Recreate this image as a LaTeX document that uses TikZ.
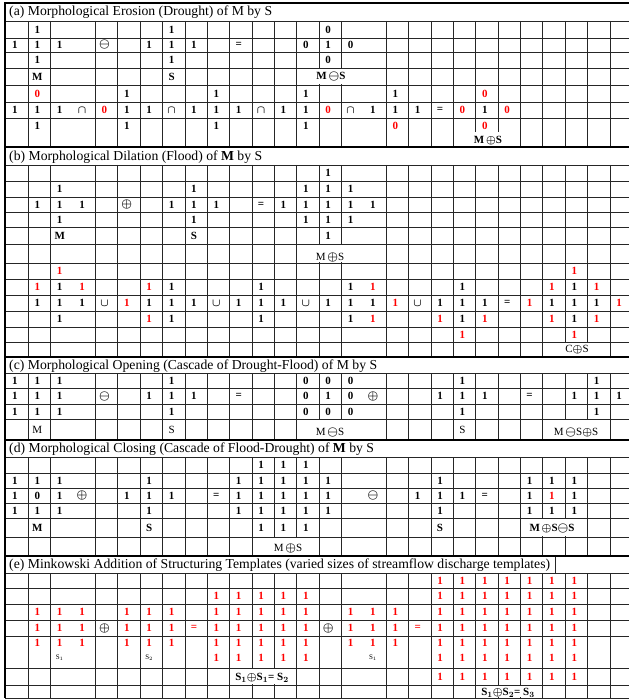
\documentclass[tikz,border=0pt]{standalone}
\usepackage{fontspec}
\setmainfont{Liberation Serif}
\usetikzlibrary{positioning}

\newcommand{\rd}[1]{\textcolor{red}{#1}}
\newcommand{\opm}{{\large$\ominus$}}
\newcommand{\opp}{{\large$\oplus$}}
% one row of cells: name, y, list of column/text
\newcommand{\cellrow}[3]{\foreach \col/\txt in {#3}
  \node[num] (#1-\col) at ({15+22.37*\col},#2) {\txt};}
\newcommand{\redrow}[3]{\foreach \col in {#3}
  \node[num, text=red] (#1-\col) at ({15+22.37*\col},#2) {1};}
\newcommand{\vgrid}[2]{\foreach \b in {1,2,4,5,...,15,17,18,...,27}
  \draw[grid] ({6+22.37*\b},#1) -- ({6+22.37*\b},#2);}
\newcommand{\hgrid}[1]{\foreach \y in {#1} \draw[grid] (5,\y) -- (629,\y);}

\begin{document}
\begin{tikzpicture}[x=1pt, y=-1pt,
    grid/.style={draw=black!85, line width=0.8pt},
    rule/.style={draw=black, line width=1.6pt},
    num/.style={font=\fontsize{11}{12}\selectfont\bfseries\boldmath, inner sep=0pt},
    title/.style={anchor=west, font=\fontsize{13.7}{15}\selectfont, inner sep=0pt},
    tag/.style={font=\fontsize{7}{8}\selectfont, inner sep=0pt},
    gap/.style={fill=white},
]
\useasboundingbox (0,0) rectangle (629,700);

% grid lines
\hgrid{21,38,52,68,85,102,118}
\vgrid{21}{147}
\hgrid{165,181,197,212,227,244,263,279,295,311,327,342}
\vgrid{165}{357}
\hgrid{373,388,404,419}
\vgrid{373}{440}
\hgrid{457,473,488,503,518,537}
\vgrid{457}{556}
\hgrid{573,588,604,620,636,668,685,698}
\vgrid{573}{698}
\draw[grid] (555,556) -- (555,573);

% merged cells
\fill[gap] (308,68.7) rectangle (352,84.3);
\fill[gap] (462,132) rectangle (512,146.2);
\fill[gap] (308,244.7) rectangle (352,262.3);
\fill[gap] (555,342.7) rectangle (598,356.3);
\fill[gap] (308,419.7) rectangle (352,439.3);
\fill[gap] (548,419.7) rectangle (605,439.3);
\fill[gap] (525,518.7) rectangle (575,536.3);
\fill[gap] (262,537.7) rectangle (308,555.3);
\fill[gap] (240,668.7) rectangle (285,684.3);
\fill[gap] (485,685.7) rectangle (532,697.3);

% section rules
\foreach \y in {3,147,357,440,556} \draw[rule] (5,\y) -- (629,\y);
\draw[rule] (5,2.2) -- (5,698);

% (a) erosion
\node[title] (ta) at (9,12) {(a) Morphological Erosion (Drought) of M by S};
\cellrow{a1}{29.5}{1/1,7/1,14/0}
\cellrow{a2}{45}{0/1,1/1,2/1,4/\opm,6/1,7/1,8/1,10/=,13/0,14/1,15/0}
\cellrow{a3}{60}{1/1,7/1,14/0}
\cellrow{a4}{76.5}{1/M,7/S}
\node[num] (a4-res) at (331,77) {M\,\opm S};
\cellrow{a5}{93.5}{1/\rd0,5/1,9/1,13/1,17/1,21/\rd0}
\cellrow{a6}{110}{0/1,1/1,2/1,3/$\cap$,4/\rd0,5/1,6/1,7/$\cap$,8/1,9/1,10/1,11/$\cap$,12/1,13/1,14/\rd0,15/$\cap$,16/1,17/1,18/1,19/=,20/\rd0,21/1,22/\rd0}
\cellrow{a7}{126}{1/1,5/1,9/1,13/1,17/\rd0,21/\rd0}
\node[num] (a7-res) at (488,141) {M\,$\oplus$S};

% (b) dilation
\node[title] (tb) at (9,157) {(b) Morphological Dilation (Flood) of \textbf{M} by S};
\cellrow{b1}{173}{14/1}
\cellrow{b2}{189}{2/1,8/1,13/1,14/1,15/1}
\cellrow{b3}{204.5}{1/1,2/1,3/1,5/\opp,7/1,8/1,9/1,11/=,12/1,13/1,14/1,15/1,16/1}
\cellrow{b4}{219.5}{2/1,8/1,13/1,14/1,15/1}
\cellrow{b5}{235.5}{2/M,8/S,14/1}
\node[num] (b6-res) at (330,257) {\mdseries M\,\opp S};
\cellrow{b7}{271}{2/\rd1,25/\rd1}
\cellrow{b8}{287}{1/\rd1,2/1,3/\rd1,6/\rd1,7/1,11/1,15/1,16/\rd1,20/1,24/\rd1,25/1,26/\rd1}
\cellrow{b9}{303}{1/1,2/1,3/1,4/$\cup$,5/\rd1,6/1,7/1,8/1,9/$\cup$,10/1,11/1,12/1,13/$\cup$,14/1,15/1,16/1,17/\rd1,18/$\cup$,19/1,20/1,21/1,22/=,23/\rd1,24/1,25/1,26/1,27/\rd1}
\cellrow{b10}{319}{2/1,6/\rd1,7/1,11/1,15/1,16/\rd1,19/\rd1,20/1,21/\rd1,24/\rd1,25/1,26/\rd1}
\cellrow{b11}{334.5}{20/\rd1,25/\rd1}
\node[num] (b12-res) at (577,350) {\mdseries C$\oplus$S};

% (c) opening
\node[title] (tc) at (9,366) {(c) Morphological Opening (Cascade of Drought-Flood) of M by S};
\cellrow{c1}{380.5}{0/1,1/1,2/1,7/1,13/0,14/0,15/0,20/1,26/1}
\cellrow{c2}{396}{0/1,1/1,2/1,4/\opm,6/1,7/1,8/1,10/=,13/0,14/1,15/0,16/\opp,19/1,20/1,21/1,23/=,25/1,26/1,27/1}
\cellrow{c3}{411.5}{0/1,1/1,2/1,7/1,13/0,14/0,15/0,20/1,26/1}
\cellrow{c4}{430}{1/\mdseries M,7/\mdseries S,20/\mdseries S}
\node[num] (c4-res1) at (330,432) {\mdseries M\,\opm S};
\node[num] (c4-res2) at (576,432) {\mdseries M\,\opm S$\oplus$S};

% (d) closing
\node[title] (td) at (9,449) {(d) Morphological Closing (Cascade of Flood-Drought) of \textbf{M} by S};
\cellrow{d1}{465}{11/1,12/1,13/1}
\cellrow{d2}{480.5}{0/1,1/1,2/1,6/1,10/1,11/1,12/1,13/1,14/1,19/1,23/1,24/1,25/1}
\cellrow{d3}{495.5}{0/1,1/0,2/1,3/\opp,5/1,6/1,7/1,9/=,10/1,11/1,12/1,13/1,14/1,16/\opm,18/1,19/1,20/1,21/=,23/1,24/\rd1,25/1}
\cellrow{d4}{510.5}{0/1,1/1,2/1,6/1,10/1,11/1,12/1,13/1,14/1,19/1,23/1,24/1,25/1}
\cellrow{d5}{527.5}{1/M,6/S,11/1,12/1,13/1,19/S}
\node[num] (d5-res) at (552,528) {M\,$\oplus$S\opm S};
\node[num] (d6-res) at (288,548) {\mdseries M\,\opp S};

% (e) Minkowski addition
\node[title] (te) at (9,565) {(e) Minkowski Addition of Structuring Templates (varied sizes of streamflow discharge templates)};
\redrow{e1}{580.5}{19,...,25}
\redrow{e2}{596}{9,...,13,19,20,...,25}
\redrow{e3}{612}{1,2,3,5,6,7,9,10,...,13,15,16,17,19,20,...,25}
\redrow{e4}{628}{1,2,3,5,6,7,9,10,...,13,15,16,17,19,20,...,25}
\cellrow{e4o}{628}{4/\opp,8/\rd{=},14/\opp,18/\rd{=}}
\redrow{e5}{643}{1,2,3,5,6,7,9,10,...,13,15,16,17,19,20,...,25}
\redrow{e6}{658}{9,...,13,19,20,...,25}
\foreach \col/\txt in {2/1,6/2,16/1}
  \node[tag] (s-\col) at ({15+22.37*\col},658) {S$_{\txt}$};
\redrow{e7}{677}{19,...,25}
\node[num] (e6-res) at (262,678) {S$_1\oplus$S$_1$= S$_2$};
\node[num] (e7-res) at (508,693) {S$_1\oplus$S$_2$= S$_3$};
\end{tikzpicture}
\end{document}
